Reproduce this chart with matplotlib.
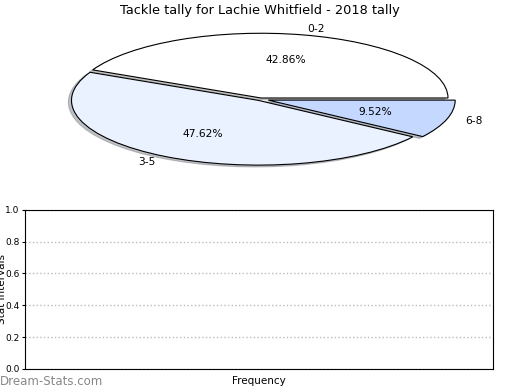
import matplotlib
matplotlib.use('Agg')
import matplotlib.pyplot as plt

plt.rcParams['font.family'] = 'DejaVu Sans'
plt.rcParams['font.size'] = 7.5

# data
labels = ['0-2', '3-5', '6-8']
counts = [9, 10, 2]
colors = ['#ffffff', '#eaf1ff', '#c5d8ff']
explode = [0.02, 0.02, 0.045]
y_ticks = [0.0, 0.2, 0.4, 0.6, 0.8, 1.0]

fig = plt.figure(figsize=(5.2, 3.9), dpi=100)

# squashed pie on top
ax1 = fig.add_axes([0.062, 0.543, 0.877, 0.405])
ax1.pie(counts, labels=labels, colors=colors, explode=explode,
        autopct='%1.2f%%', startangle=0,
        shadow={'ox': -0.012, 'oy': -0.02, 'shade': 0.45},
        wedgeprops={'edgecolor': 'black', 'linewidth': 0.8},
        textprops={'fontsize': 7.7})
ax1.set_aspect('auto')
ax1.set_xlim(-1.22, 1.22)
ax1.set_ylim(-1.22, 1.22)
fig.text(0.5, 0.974, 'Tackle tally for Lachie Whitfield - 2018 tally',
         ha='center', va='center', fontsize=9.3)

# empty frequency axes below
ax2 = fig.add_axes([0.048, 0.054, 0.9, 0.408])
ax2.set_ylim(0, 1)
ax2.set_yticks(y_ticks)
ax2.set_xticks([])
ax2.tick_params(axis='y', length=2, labelsize=6.5, pad=2)
ax2.yaxis.grid(True, linestyle=':', color='#bbbbbb', linewidth=1)
ax2.set_xlabel('Frequency', fontsize=7.5, labelpad=5)
ax2.set_ylabel('Stat Intervals', fontsize=7.5)
ax2.yaxis.set_label_coords(-0.038, 0.5)

fig.text(0.0, 0.023, 'Dream-Stats.com', color='#888888', fontsize=8.5,
         ha='left', va='center')

plt.savefig('out.png', dpi=100)
